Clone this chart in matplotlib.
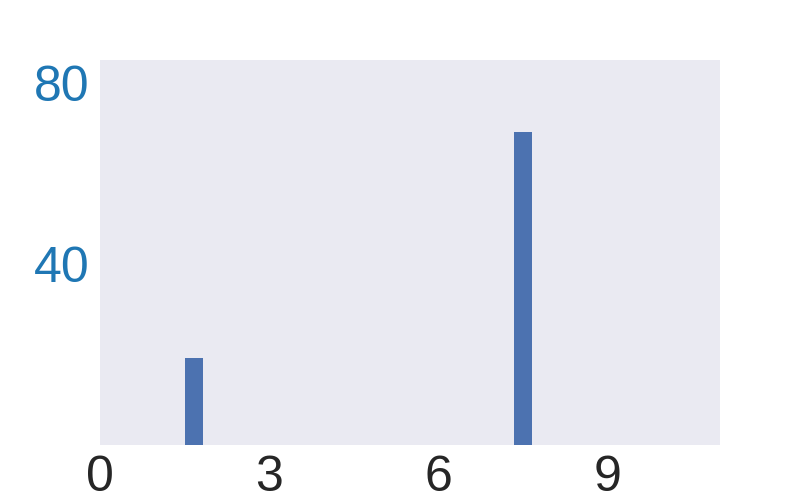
import matplotlib
matplotlib.use("Agg")
import matplotlib.pyplot as plt
import seaborn as sns

x_positions = [1.67, 7.5]
heights = [19.2, 69.2]
x_ticks = [0, 3, 6, 9]
y_ticks = [40, 80]

sns.set_theme(style="dark")
plt.rcParams['font.family'] = ['Liberation Sans', 'DejaVu Sans']

fig = plt.figure(figsize=(8, 5), dpi=100)
ax = fig.add_axes([0.125, 0.11, 0.775, 0.77])
ax.bar(x_positions, heights, width=0.32, color="#4c72b0", linewidth=0)
ax.set_xlim(0, 11)
ax.set_ylim(0, 85)
ax.set_xticks(x_ticks)
ax.set_yticks(y_ticks)
ax.tick_params(axis='x', labelsize=36, colors='#262626', pad=1)
ax.tick_params(axis='y', labelsize=36, labelcolor='#1f77b4', pad=1.5)
for s in ax.spines.values():
    s.set_visible(False)
fig.savefig("out.png", dpi=100)
